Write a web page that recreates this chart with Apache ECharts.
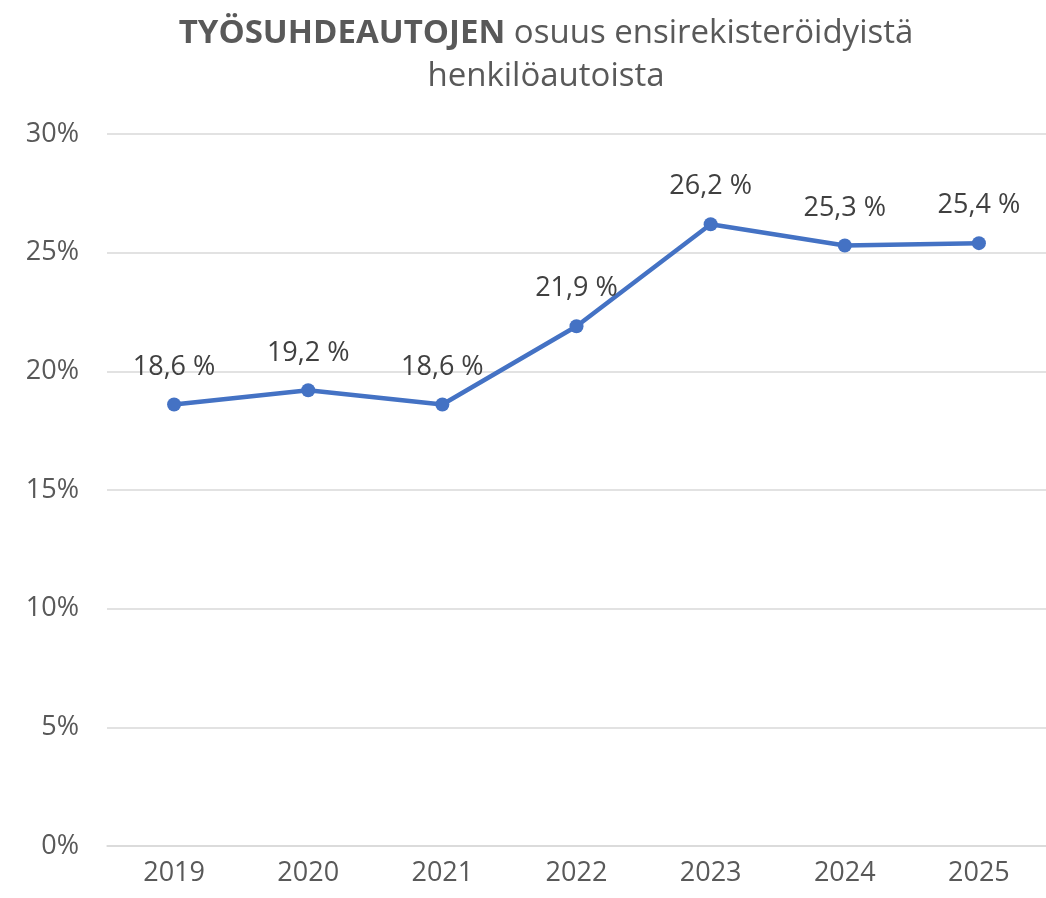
<!DOCTYPE html>
<html><head><meta charset="utf-8">
<script src="https://cdn.jsdelivr.net/npm/echarts@6/dist/echarts.min.js"></script>
<style>html,body{margin:0;padding:0;background:#fff}#c{width:1046px;height:898px}</style>
</head><body><div id="c"></div>
<script>
const years = ['2019','2020','2021','2022','2023','2024','2025'];
const shares = [18.6, 19.2, 18.6, 21.9, 26.2, 25.3, 25.4];
const yTicks = [0, 5, 10, 15, 20, 25, 30];

const chart = echarts.init(document.getElementById('c'));
const FONT = '"Open Sans", "Noto Sans", sans-serif';
chart.setOption({
  backgroundColor: '#fff',
  animation: false,
  title: {
    text: '{b|TYÖSUHDEAUTOJEN} {r|osuus ensirekisteröidyistä}\n{r|henkilöautoista}',
    left: 541, textAlign: 'center', top: 7,
    textStyle: {
      fontFamily: FONT, lineHeight: 43, fontWeight: 'normal', fontSize: 33,
      rich: {
        b: { fontFamily: FONT, fontSize: 33, fontWeight: 'bold', color: '#595959', lineHeight: 43 },
        r: { fontFamily: FONT, fontSize: 33, fontWeight: 'normal', color: '#595959', lineHeight: 43 }
      }
    }
  },
  grid: { left: 107, right: -3, top: 134, bottom: 52, containLabel: false },
  xAxis: {
    type: 'category', data: years, boundaryGap: true,
    axisLine: { show: true, lineStyle: { color: '#d9d9d9', width: 1.5 } },
    axisTick: { show: false },
    axisLabel: { fontFamily: FONT, fontSize: 27, color: '#595959', margin: 14 }
  },
  yAxis: {
    type: 'value', min: yTicks[0], max: yTicks[yTicks.length - 1], interval: 5,
    axisLine: { show: false }, axisTick: { show: false },
    splitLine: { lineStyle: { color: '#d9d9d9', width: 1.5 } },
    axisLabel: { fontFamily: FONT, fontSize: 27, color: '#595959', margin: 28, formatter: v => v + '%' }
  },
  series: [{
    type: 'line', data: shares,
    symbol: 'circle', symbolSize: 14,
    lineStyle: { color: '#4472C4', width: 4.5 },
    itemStyle: { color: '#4472C4' },
    label: {
      show: true, position: 'top', distance: 17,
      fontFamily: FONT, fontSize: 27, color: '#404040',
      formatter: p => p.value.toFixed(1).replace('.', ',') + ' %'
    }
  }]
});
</script></body></html>
